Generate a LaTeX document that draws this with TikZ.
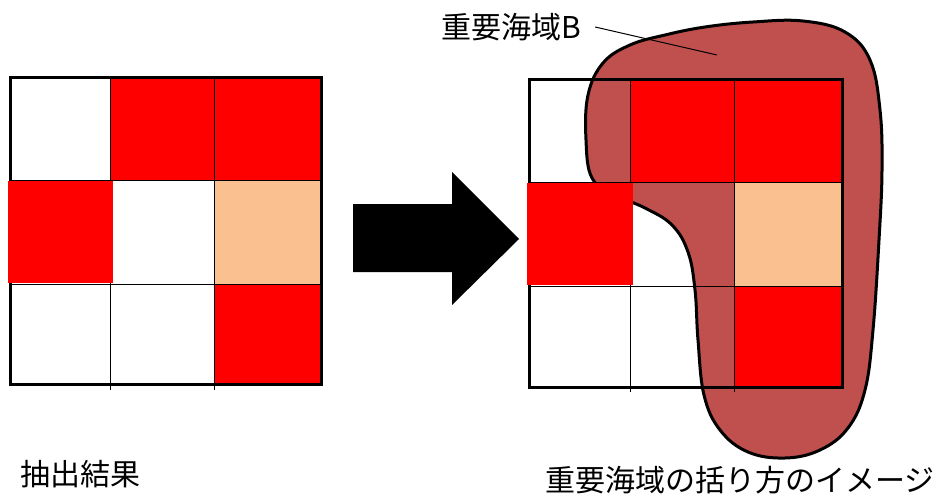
\documentclass[tikz,border=0pt]{standalone}
\usepackage{fontspec}
\setmainfont{Noto Sans CJK JP}
\definecolor{cellred}{HTML}{FF0000}
\definecolor{peach}{HTML}{FAC090}
\definecolor{blobred}{HTML}{C0504D}
\begin{document}
\begin{tikzpicture}[x=1pt,y=-1pt,
  thinline/.style={black, line width=1pt},
  border/.style={black, line width=3pt},
  blob/.style={fill=blobred, draw=black, line width=3pt},
  lbl/.style={font=\fontsize{30}{36}\selectfont, inner sep=0pt, anchor=west}]
\useasboundingbox (0,0) rectangle (944,500);
\fill[white] (0,0) rectangle (944,500);

% ---------- left grid ----------
\fill[cellred] (110,78) rectangle (321,180);
\fill[peach] (214,180) rectangle (321,284);
\fill[cellred] (214,284) rectangle (321,384);
\draw[thinline] (110,78) -- (110,390) (214,78) -- (214,390)
                (10,180) -- (321,180) (10,284) -- (321,284);
\draw[border] (10,78) rectangle (321,384);
\fill[cellred] (8,181) rectangle (113,283);

% ---------- arrow ----------
\fill[black] (353,204) -- (452,204) -- (452,172) -- (519,239) -- (452,305) -- (452,272) -- (353,272) -- cycle;

% ---------- right grid with blob ----------
\draw[blob] plot[smooth cycle, tension=0.65] coordinates {
  (753,22) (803,21) (845,32) (870,60) (880,110) (882,170) (879,240)
  (873,330) (865,390) (848,428) (820,450) (785,458) (748,452) (720,430)
  (704,395) (698,340) (695,290) (688,252) (672,225) (645,208) (615,195)
  (592,178) (586,140) (588,95) (603,63) (630,45) (665,35) (705,27)};
\fill[cellred] (630,80) rectangle (842,182);
\fill[peach] (734,182) rectangle (842,286);
\fill[cellred] (734,286) rectangle (842,387);
\draw[thinline] (630,80) -- (630,392) (734,80) -- (734,392)
                (529,182) -- (842,182) (529,286) -- (842,286);
\draw[border] (529,80) rectangle (842,387);
\fill[cellred] (527,183) rectangle (633,285);

% ---------- labels ----------
\node[lbl] (labelB) at (441,27) {重要海域B};
\coordinate (lbend) at (717,55);
\draw[thinline] ([xshift=14pt]labelB.east) -- (lbend);
\node[lbl] (result) at (20,474) {抽出結果};
\node[lbl] (image) at (545,480) {重要海域の括り方のイメージ};
\end{tikzpicture}
\end{document}
